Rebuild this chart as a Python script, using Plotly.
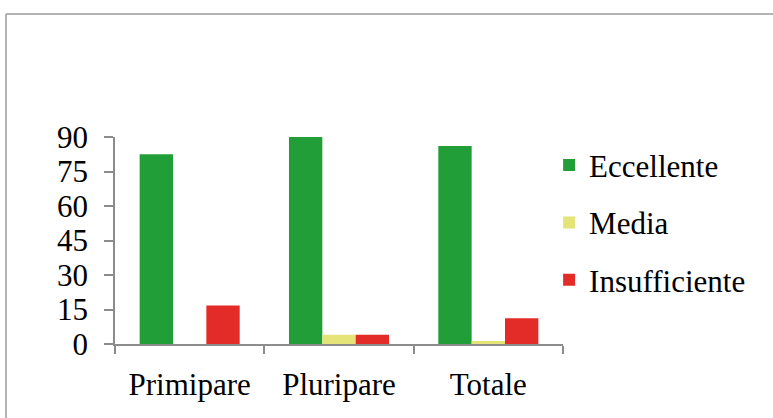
import plotly.graph_objects as go

categories = ["Primipare", "Pluripare", "Totale"]
eccellente = [82.5, 90.0, 86.1]
media = [0.0, 4.0, 1.3]
insufficiente = [16.7, 4.0, 11.2]
y_ticks = [0, 15, 30, 45, 60, 75, 90]

font_family = "Liberation Serif, Times New Roman, serif"
FS = 31

fig = go.Figure()
series = [
    ("Eccellente", eccellente, "#219e38"),
    ("Media", media, "#e4e478"),
    ("Insufficiente", insufficiente, "#e32b27"),
]
for name, vals, col in series:
    fig.add_trace(go.Bar(
        x=categories, y=vals, name=name, marker_color=col,
        marker_line_width=0, legendgroup=name,
    ))

def px_x(p):
    return (p - 115) / 448

def px_y(p):
    return (344 - p) / 207

frame = dict(color="#9a9a9a", width=1.5)

fig.update_layout(
    width=773, height=418,
    margin=dict(l=115, r=210, t=137, b=74),
    paper_bgcolor="white", plot_bgcolor="white",
    barmode="group", bargap=0.33, bargroupgap=0,
    font=dict(family=font_family, size=FS, color="black"),
    showlegend=True,
    legend=dict(
        x=0.969, y=0.993, xanchor="left", yanchor="top",
        font=dict(family=font_family, size=FS, color="black"),
        traceorder="grouped", tracegroupgap=14,
        bgcolor="rgba(0,0,0,0)",
    ),
    xaxis=dict(
        showgrid=False, showline=True, linecolor="#8c8c8c", linewidth=1.5,
        ticks="outside", tickson="boundaries", ticklen=8, tickcolor="#8c8c8c",
        tickwidth=1.5, tickfont=dict(size=FS), fixedrange=True,
        ticklabelstandoff=12,
    ),
    yaxis=dict(
        range=[0, 90], tickvals=y_ticks, showgrid=False, zeroline=False,
        showline=True, linecolor="#8c8c8c", linewidth=1.5,
        ticks="outside", ticklen=9, tickcolor="#8c8c8c", tickwidth=1.5,
        tickfont=dict(size=FS), fixedrange=True,
        ticklabelstandoff=10,
    ),
    shapes=[
        dict(type="line", xref="paper", yref="paper",
             x0=px_x(6), x1=px_x(775), y0=px_y(14), y1=px_y(14), line=frame),
        dict(type="line", xref="paper", yref="paper",
             x0=px_x(6), x1=px_x(6), y0=px_y(14), y1=px_y(420), line=frame),
    ],
)

fig.write_html("out.html", config={"displayModeBar": False},
               post_script="document.body.style.margin='0';")
